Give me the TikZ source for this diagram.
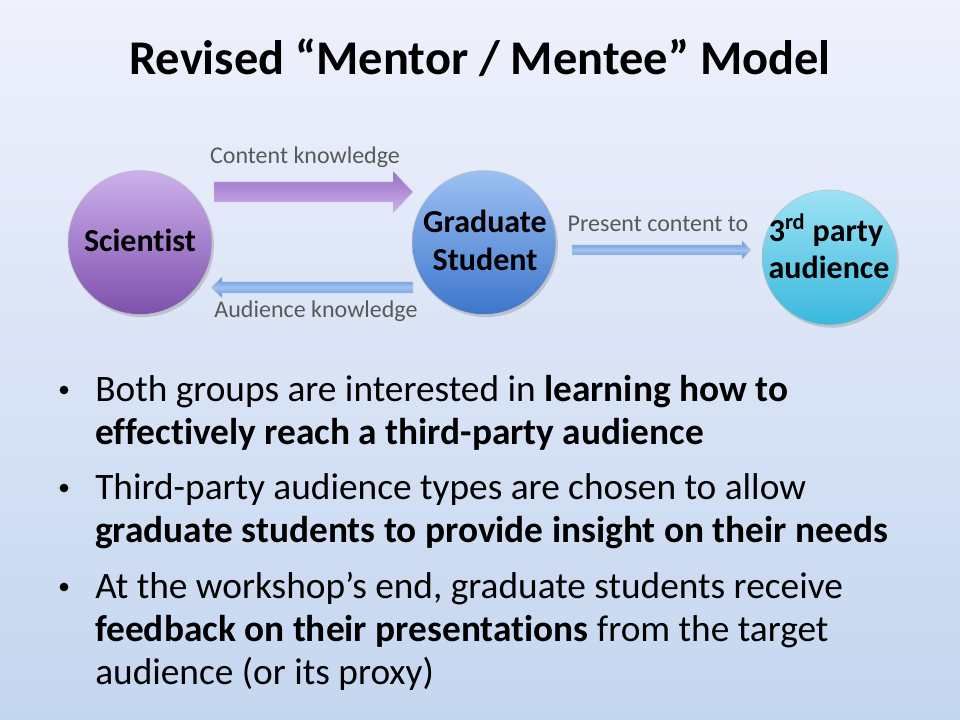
\documentclass[tikz,border=0pt]{standalone}
\usepackage{fontspec}
\setmainfont{Carlito}[Ligatures={NoCommon}]
\usetikzlibrary{shadows}
\definecolor{bgtop}{RGB}{239,241,252}
\definecolor{bgbot}{RGB}{196,214,239}
\definecolor{scitop}{RGB}{204,176,236}
\definecolor{scibot}{RGB}{126,80,172}
\definecolor{gradtop}{RGB}{156,192,242}
\definecolor{gradbot}{RGB}{62,118,204}
\definecolor{thirdtop}{RGB}{158,226,244}
\definecolor{thirdbot}{RGB}{58,184,222}
\definecolor{labelgray}{RGB}{89,89,89}
\definecolor{arrpurpD}{RGB}{150,110,196}
\definecolor{arrpurpL}{RGB}{206,178,236}
\definecolor{arrblueD}{RGB}{90,140,215}
\definecolor{arrblueL}{RGB}{160,196,240}
\tikzset{
  circ/.style={circle, minimum size=#1, inner sep=0pt, draw=black!25, line width=0.4pt,
     drop shadow={shadow xshift=1.5pt, shadow yshift=-2pt, opacity=0.15, fill=black}},
  circlabel/.style={font=\fontsize{24}{28}\selectfont\bfseries, align=center, text=black},
  smalllabel/.style={font=\fontsize{18}{21}\selectfont, text=labelgray, anchor=base},
  bulletline/.style={font=\fontsize{28}{33}\selectfont, anchor=base west, inner sep=0pt, text=black},
  bulletdot/.style={circle, fill=black, draw=none, inner sep=0pt, minimum size=6.5pt}
}
\begin{document}
\begin{tikzpicture}[x=0.75pt,y=-0.75pt]
\shade[top color=bgtop, bottom color=bgbot] (0,0) rectangle (960,720);
\useasboundingbox (0,0) rectangle (960,720);

% title
\node[font=\fontsize{36.3}{43}\selectfont\bfseries, anchor=base, inner sep=0pt] (title) at (480,75)
  {Revised \textquotedblleft Mentor / Mentee\textquotedblright{} Model};

% circles
\node[circ=144*0.75pt, top color=scitop, bottom color=scibot] (sci) at (140,242.5) {};
\node[circ=144*0.75pt, top color=gradtop, bottom color=gradbot] (grad) at (484,242.5) {};
\node[circ=135*0.75pt, top color=thirdtop, bottom color=thirdbot] (third) at (829.5,257.5) {};

\node[circlabel, anchor=base] (scit) at (140,252) {Scientist};
\node[circlabel, anchor=base] (gradt1) at (485,233) {Graduate};
\node[circlabel, anchor=base] (gradt2) at (485,271) {Student};
\node[circlabel, anchor=base] (thirdt1) at (826,242) {3\textsuperscript{rd} party};
\node[circlabel, anchor=base] (thirdt2) at (829,279) {audience};

% block arrows
\shade[draw=black!20, line width=0.3pt, top color=arrpurpD, bottom color=arrpurpL]
  (214,182) -- (393,182) -- (393,171) -- (413,192) -- (393,213) -- (393,202) -- (214,202) -- cycle;
\shade[draw=black!20, line width=0.3pt, top color=arrblueD, bottom color=arrblueD, middle color=arrblueL]
  (413,282) -- (222,282) -- (222,277) -- (211,287.5) -- (222,298) -- (222,293) -- (413,293) -- cycle;
\shade[draw=black!20, line width=0.3pt, top color=arrblueD, bottom color=arrblueD, middle color=arrblueL]
  (572,245) -- (742,245) -- (742,240.5) -- (751,250) -- (742,259.5) -- (742,255) -- (572,255) -- cycle;

% arrow labels
\node[smalllabel] (lcontent) at (305,164) {Content knowledge};
\node[smalllabel] (laud) at (316,317) {Audience knowledge};
\node[smalllabel] (lpresent) at (658,232) {Present content to};

% bullets
\node[bulletdot] (b1) at (64,390) {};
\node[bulletline] (b1a) at (95,401) {Both groups are interested in \textbf{learning how to}};
\node[bulletline] (b1b) at (95,444) {\textbf{effectively reach a third-party audience}};
\node[bulletdot] (b2) at (64,488) {};
\node[bulletline] (b2a) at (95,499) {Third-party audience types are chosen to allow};
\node[bulletline] (b2b) at (95,542) {\textbf{graduate students to provide insight on their needs}};
\node[bulletdot] (b3) at (64,587) {};
\node[bulletline] (b3a) at (95,598) {At the workshop\textquoteright s end, graduate students receive};
\node[bulletline] (b3b) at (95,641) {\textbf{feedback on their presentations} from the target};
\node[bulletline] (b3c) at (95,684) {audience (or its proxy)};
\end{tikzpicture}
\end{document}
